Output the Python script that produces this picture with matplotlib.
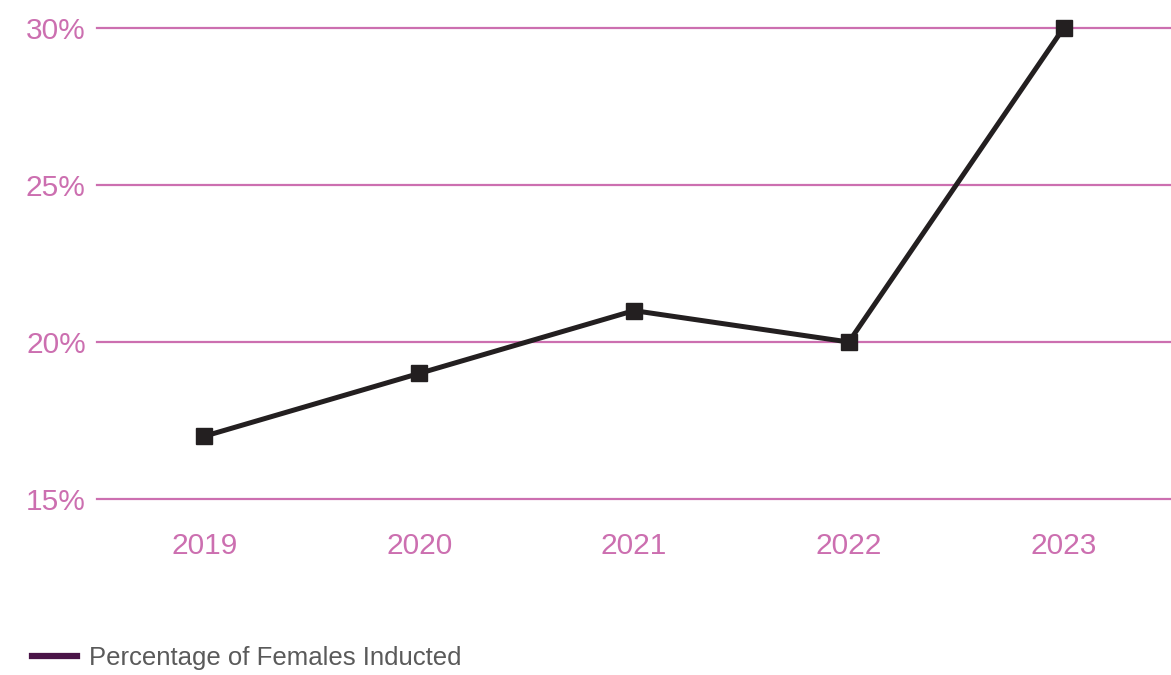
import matplotlib.pyplot as plt
from matplotlib.lines import Line2D

years = ['2019', '2020', '2021', '2022', '2023']
pct_females = [17, 19, 21, 20, 30]
y_ticks = [15, 20, 25, 30]
y_labels = ['15%', '20%', '25%', '30%']

pink = '#cc6fb0'
plt.rcParams['font.family'] = ['Liberation Sans', 'DejaVu Sans']

fig = plt.figure(figsize=(11.71, 6.75), dpi=100)
ax = fig.add_axes([0.0828, 0.2607, 0.9172, 0.6978])

x = list(range(len(years)))
ax.plot(x, pct_females, color='#231f20', lw=3.6, marker='s', markersize=11.5,
        clip_on=False, zorder=3)

ax.set_xlim(-0.5, 4.5)
ax.set_ylim(15, 30)
ax.set_yticks(y_ticks)
ax.set_yticklabels(y_labels)
ax.set_xticks(x)
ax.set_xticklabels(years)
ax.grid(axis='y', color=pink, lw=1.6)
for gl in ax.get_ygridlines():
    gl.set_clip_on(False)
ax.set_axisbelow(True)
for s in ax.spines.values():
    s.set_visible(False)
ax.tick_params(axis='both', length=0, labelcolor=pink, labelsize=21.5)
ax.tick_params(axis='y', pad=8)
ax.tick_params(axis='x', pad=24)

handle = Line2D([], [], color='#4a1548', lw=4.5)
leg = fig.legend([handle], ['Percentage of Females Inducted'], loc='center left',
                 bbox_to_anchor=(0.008, 0.025), frameon=False, fontsize=18.5,
                 handlelength=1.75, handletextpad=0.45)
for t in leg.get_texts():
    t.set_color('#5a5a5a')

fig.savefig('out.png', dpi=100)
